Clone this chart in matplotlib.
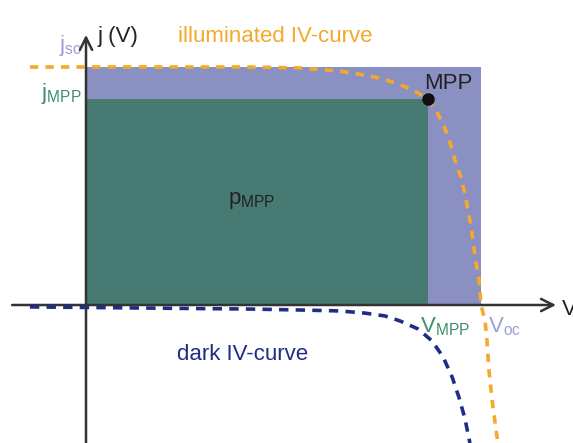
import matplotlib
matplotlib.use('Agg')
import matplotlib.pyplot as plt

plt.rcParams['font.family'] = ['Liberation Sans', 'DejaVu Sans']
plt.rcParams['mathtext.fontset'] = 'custom'
plt.rcParams['mathtext.rm'] = 'Liberation Sans'
plt.rcParams['mathtext.it'] = 'Liberation Sans'

# normalised units: V / Voc and j / jsc
v_oc = 1.0
j_sc = 1.0
v_mpp = 0.866
j_mpp = 0.866

# illuminated IV-curve
ill_v = [-0.142, 0.162, 0.415, 0.542, 0.643, 0.719, 0.752, 0.790, 0.828, 0.866,
         0.886, 0.906, 0.922, 0.934, 0.949, 0.959, 0.967, 0.975, 0.980, 0.987,
         0.995, 1.000, 1.010, 1.015, 1.020, 1.028, 1.038, 1.043]
ill_j = [1.000, 1.000, 1.000, 0.996, 0.983, 0.962, 0.950, 0.929, 0.903, 0.866,
         0.819, 0.752, 0.681, 0.609, 0.538, 0.471, 0.399, 0.328, 0.265, 0.181,
         0.105, 0.000, -0.063, -0.147, -0.273, -0.399, -0.525, -0.580]

# dark IV-curve
dark_v = [-0.142, 0.162, 0.415, 0.542, 0.643, 0.706, 0.757, 0.795, 0.841,
          0.876, 0.904, 0.927, 0.944, 0.959, 0.972]
dark_j = [-0.008, -0.013, -0.017, -0.021, -0.025, -0.034, -0.046, -0.067,
          -0.101, -0.151, -0.218, -0.303, -0.387, -0.475, -0.580]

ORANGE = '#f5a82a'
NAVY = '#1f2d86'
LAVENDER = '#8a90c2'
TEAL = '#467a72'
GREEN = '#3e8f6c'
LABEL_LAV = '#9aa0d2'
AXIS = '#333333'

fig = plt.figure(figsize=(5.73, 4.43), dpi=100)
ax = fig.add_axes([0, 0, 1, 1])
ax.set_xlim(-86 / 395, 487 / 395)
ax.set_ylim(-138 / 238, 305 / 238)
ax.axis('off')

# power rectangles
ax.bar(0, j_sc, width=v_oc, align='edge', color=LAVENDER, zorder=1)
ax.bar(0, j_mpp, width=v_mpp, align='edge', color=TEAL, zorder=2)

# axes with arrows
ax.annotate('', xy=(1.19, 0), xytext=(-0.187, 0),
            arrowprops=dict(arrowstyle='->', lw=1.8, color=AXIS,
                            mutation_scale=22, shrinkA=0, shrinkB=0), zorder=4)
ax.annotate('', xy=(0, 1.135), xytext=(0, -0.58),
            arrowprops=dict(arrowstyle='->', lw=1.8, color=AXIS,
                            mutation_scale=22, shrinkA=0, shrinkB=0), zorder=4)

# curves
ax.plot(ill_v, ill_j, color=ORANGE, lw=2.6, dashes=(2.3, 2.0), zorder=5)
ax.plot(dark_v, dark_j, color=NAVY, lw=2.6, dashes=(2.6, 2.0), zorder=5)
ax.plot([v_mpp], [j_mpp], 'o', color='#111111', ms=8, zorder=6)

fs = 16
ax.text(0.028, 1.13, 'j (V)', fontsize=fs, color='#222222', va='center')
ax.text(0.233, 1.13, 'illuminated IV-curve', fontsize=fs, color=ORANGE, va='center')
ax.text(-0.012, 1.09, r'j$_\mathrm{sc}$', fontsize=fs, color=LABEL_LAV,
        ha='right', va='center')
ax.text(-0.012, 0.89, r'j$_\mathrm{MPP}$', fontsize=fs, color=GREEN,
        ha='right', va='center')
ax.text(0.856, 0.93, 'MPP', fontsize=fs, color='#222222', va='center', zorder=7)
ax.text(0.36, 0.44, r'p$_\mathrm{MPP}$', fontsize=fs, color='#222222', va='center')
ax.text(0.846, -0.09, r'V$_\mathrm{MPP}$', fontsize=fs, color=GREEN, va='center')
ax.text(1.018, -0.09, r'V$_\mathrm{oc}$', fontsize=fs, color=LABEL_LAV, va='center')
ax.text(1.205, -0.02, 'V', fontsize=fs, color='#222222', va='center')
ax.text(0.23, -0.21, 'dark IV-curve', fontsize=fs, color=NAVY, va='center')

fig.savefig('out.png', dpi=100)
